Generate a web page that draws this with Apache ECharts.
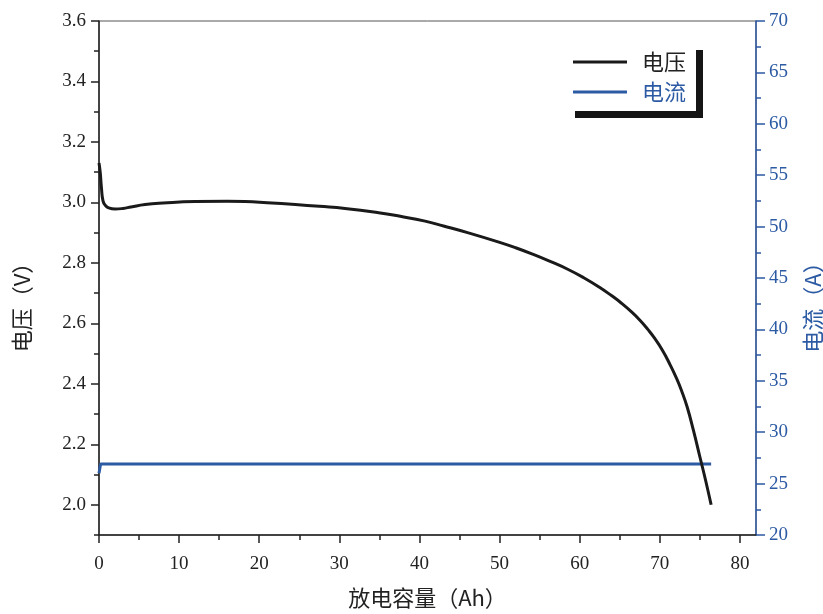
<!DOCTYPE html>
<html>
<head>
<meta charset="utf-8">
<script src="https://cdn.jsdelivr.net/npm/echarts@6/dist/echarts.min.js"></script>
<style>
  html, body { margin: 0; padding: 0; background: #ffffff; }
  #chart { width: 823px; height: 614px; }
</style>
</head>
<body>
<div id="chart"></div>
<script>
// Discharge curve: cell voltage and discharge current vs. discharged capacity
const capacityAh = [0, 0.15, 0.3, 0.5, 0.8, 1.2, 2.0, 3.0, 4.0, 5.75, 8.0, 12.0, 16.0, 18.2, 21.0, 24.5, 27.5, 30.7, 34.9, 37.6, 40.7, 43.0, 46.0, 50.1, 52.0, 54.2, 56.3, 58.5, 60.5, 62.6, 64.0, 65.1, 66.5, 67.6, 68.5, 69.2, 70.3, 71.3, 72.0, 72.7, 73.4, 74.2, 75.0, 75.7, 76.4];
const voltageV   = [3.13, 3.10, 3.05, 3.005, 2.99, 2.982, 2.978, 2.980, 2.985, 2.993, 2.998, 3.003, 3.004, 3.003, 2.999, 2.993, 2.987, 2.980, 2.966, 2.954, 2.938, 2.922, 2.900, 2.867, 2.850, 2.828, 2.805, 2.779, 2.751, 2.717, 2.691, 2.669, 2.637, 2.608, 2.580, 2.556, 2.512, 2.462, 2.423, 2.378, 2.324, 2.245, 2.158, 2.082, 2.000];

const currentCapacityAh = [0, 0.2, 76.4];
const currentA          = [26.0, 26.9, 26.9];

const voltageTicks  = [2.0, 2.2, 2.4, 2.6, 2.8, 3.0, 3.2, 3.4, 3.6];
const voltageMinor  = [1.9, 2.1, 2.3, 2.5, 2.7, 2.9, 3.1, 3.3, 3.5];
const capacityTicks = [0, 10, 20, 30, 40, 50, 60, 70, 80];
const capacityMinor = [5, 15, 25, 35, 45, 55, 65, 75];

const BLUE = '#2c5aa3';
const INK = '#222222';
const NUM_FONT = '"Liberation Serif", "DejaVu Serif", serif';
const CJK_FONT = '"Noto Sans CJK SC", "Noto Sans", sans-serif';

const voltageData = capacityAh.map((x, i) => [x, voltageV[i]]);
const currentData = currentCapacityAh.map((x, i) => [x, currentA[i]]);

const chart = echarts.init(document.getElementById('chart'), null, { renderer: 'canvas' });

chart.setOption({
  animation: false,
  backgroundColor: '#ffffff',
  grid: {
    left: 99, right: 67, top: 21, bottom: 79,
    outerBoundsMode: 'none',
    containLabel: false,
    show: true, borderColor: '#555555', borderWidth: 1, backgroundColor: 'transparent'
  },
  legend: {
    orient: 'vertical',
    left: 568, top: 43,
    padding: [8, 10, 8, 5],
    itemGap: 8,
    itemWidth: 54, itemHeight: 3,
    icon: 'rect',
    backgroundColor: '#ffffff',
    borderWidth: 0,
    shadowColor: '#151515', shadowBlur: 0, shadowOffsetX: 7, shadowOffsetY: 7,
    textStyle: { fontFamily: CJK_FONT, fontSize: 22, padding: [0, 0, 0, 10] },
    data: [
      { name: '电压', textStyle: { color: INK } },
      { name: '电流', textStyle: { color: BLUE } }
    ]
  },
  xAxis: [
    {
      type: 'value', position: 'bottom', min: 0, max: 82,
      name: '放电容量（Ah）', nameLocation: 'middle', nameGap: 52,
      nameTextStyle: { fontFamily: CJK_FONT, fontSize: 22, color: INK },
      axisLine: { show: true, onZero: false, lineStyle: { color: INK, width: 1.5 } },
      axisTick: { show: true, inside: false, length: 8, customValues: capacityTicks, lineStyle: { color: INK, width: 1.5 } },
      axisLabel: { customValues: capacityTicks, margin: 20, fontFamily: NUM_FONT, fontSize: 19, color: INK },
      splitLine: { show: false }
    },
    {
      type: 'value', position: 'bottom', min: 0, max: 82,
      axisLine: { show: false, onZero: false },
      axisTick: { show: true, length: 5, customValues: capacityMinor, lineStyle: { color: INK, width: 1.5 } },
      axisLabel: { show: false },
      splitLine: { show: false }
    }
  ],
  yAxis: [
    {
      type: 'value', position: 'left', min: 1.9, max: 3.6,
      name: '电压（V）', nameLocation: 'middle', nameGap: 66,
      nameTextStyle: { fontFamily: CJK_FONT, fontSize: 22, color: INK, padding: [0, 48, 0, 0] },
      axisLine: { show: true, onZero: false, lineStyle: { color: INK, width: 1.5 } },
      axisTick: { show: true, length: 8, customValues: voltageTicks, lineStyle: { color: INK, width: 1.5 } },
      axisLabel: {
        customValues: voltageTicks, margin: 13,
        fontFamily: NUM_FONT, fontSize: 19, color: INK,
        formatter: v => Number(v).toFixed(1)
      },
      splitLine: { show: false }
    },
    {
      type: 'value', position: 'right', min: 20, max: 70, interval: 5,
      name: '电流（A）', nameLocation: 'middle', nameGap: 46,
      nameTextStyle: { fontFamily: CJK_FONT, fontSize: 22, color: BLUE, padding: [0, 48, 0, 0] },
      axisLine: { show: true, onZero: false, lineStyle: { color: BLUE, width: 1.5 } },
      axisTick: { show: true, length: 9, lineStyle: { color: BLUE, width: 1.5 } },
      minorTick: { show: true, splitNumber: 2, length: 5, lineStyle: { color: BLUE, width: 1.5 } },
      axisLabel: { margin: 13, fontFamily: NUM_FONT, fontSize: 19, color: BLUE },
      splitLine: { show: false },
      minorSplitLine: { show: false }
    },
    {
      type: 'value', position: 'left', min: 1.9, max: 3.6,
      axisLine: { show: false, onZero: false },
      axisTick: { show: true, length: 5, customValues: voltageMinor, lineStyle: { color: INK, width: 1.5 } },
      axisLabel: { show: false },
      splitLine: { show: false }
    }
  ],
  series: [
    {
      name: '电压', type: 'line', xAxisIndex: 0, yAxisIndex: 0,
      data: voltageData, showSymbol: false, symbol: 'none', smooth: 0.5,
      lineStyle: { color: '#1a1a1a', width: 3 },
      itemStyle: { color: '#1a1a1a' },
      z: 3
    },
    {
      name: '电流', type: 'line', xAxisIndex: 0, yAxisIndex: 1,
      data: currentData, showSymbol: false, symbol: 'none',
      lineStyle: { color: BLUE, width: 3 },
      itemStyle: { color: BLUE },
      z: 2
    }
  ]
});
</script>
</body>
</html>
